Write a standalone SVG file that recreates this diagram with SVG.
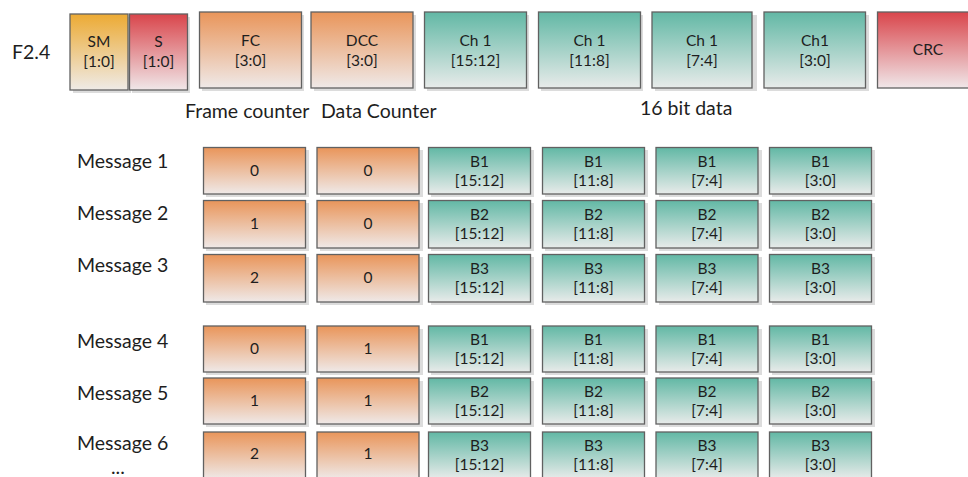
<svg xmlns="http://www.w3.org/2000/svg" width="968" height="477" viewBox="0 0 968 477">
<defs>
<linearGradient id="gO" x1="0" y1="0" x2="0" y2="1"><stop offset="0" stop-color="#E9955A"/><stop offset="1" stop-color="#EFE9E8"/></linearGradient>
<linearGradient id="gT" x1="0" y1="0" x2="0" y2="1"><stop offset="0" stop-color="#62B8A5"/><stop offset="1" stop-color="#E8EBEA"/></linearGradient>
<linearGradient id="gR" x1="0" y1="0" x2="0" y2="1"><stop offset="0" stop-color="#D9454B"/><stop offset="1" stop-color="#F0E7E9"/></linearGradient>
<linearGradient id="gY" x1="0" y1="0" x2="0" y2="1"><stop offset="0" stop-color="#ECAA33"/><stop offset="1" stop-color="#EFEBE7"/></linearGradient>
</defs>
<style>
text{font-family:Lato,"Liberation Sans",sans-serif;fill:#1e1e1e}
.s{font-size:15.5px;text-anchor:middle}
.l{font-size:19.5px}
.sh{fill:#dcdcdc}
.b{stroke:#616161;stroke-width:1.3}
.o{fill:url(#gO)}.t{fill:url(#gT)}.r{fill:url(#gR)}.y{fill:url(#gY)}
</style>
<rect width="968" height="477" fill="#fff"/>
<g id="labels">
<text class="l" x="12" y="59">F2.4</text>
<text class="l" x="185" y="118">Frame counter</text>
<text class="l" x="321" y="118">Data Counter</text>
<text class="l" x="640" y="115">16 bit data</text>
<text class="l" x="77" y="168">Message 1</text>
<text class="l" x="77" y="220">Message 2</text>
<text class="l" x="77" y="272">Message 3</text>
<text class="l" x="77" y="348">Message 4</text>
<text class="l" x="77" y="400">Message 5</text>
<text class="l" x="77" y="450">Message 6</text>
<text class="l" x="111" y="474">...</text>
</g>
<g id="frame">
<g id="n-sm"><rect class="sh" x="73" y="17" width="58" height="76"/><rect class="b y" x="70" y="14" width="58" height="76"/><text class="s" x="99" y="47">SM</text><text class="s" x="99" y="67">[1:0]</text></g>
<g id="n-s"><rect class="sh" x="132" y="17" width="58" height="76"/><rect class="b r" x="129.5" y="14" width="58" height="76"/><text class="s" x="158.5" y="47">S</text><text class="s" x="158.5" y="67">[1:0]</text></g>
<g id="n-fc"><rect class="sh" x="202" y="15" width="102" height="76"/><rect class="b o" x="199.5" y="12" width="102" height="76"/><text class="s" x="250.5" y="46">FC</text><text class="s" x="250.5" y="66">[3:0]</text></g>
<g id="n-dcc"><rect class="sh" x="314" y="15" width="102" height="76"/><rect class="b o" x="311" y="12" width="102" height="76"/><text class="s" x="362" y="46">DCC</text><text class="s" x="362" y="66">[3:0]</text></g>
<g id="n-ch1a"><rect class="sh" x="427" y="15" width="102" height="76"/><rect class="b t" x="424.5" y="12" width="102" height="76"/><text class="s" x="475.5" y="46">Ch 1</text><text class="s" x="475.5" y="66">[15:12]</text></g>
<g id="n-ch1b"><rect class="sh" x="541" y="15" width="102" height="76"/><rect class="b t" x="538.5" y="12" width="102" height="76"/><text class="s" x="589.5" y="46">Ch 1</text><text class="s" x="589.5" y="66">[11:8]</text></g>
<g id="n-ch1c"><rect class="sh" x="655" y="15" width="102" height="76"/><rect class="b t" x="652" y="12" width="100" height="76"/><text class="s" x="702" y="46">Ch 1</text><text class="s" x="702" y="66">[7:4]</text></g>
<g id="n-ch1d"><rect class="sh" x="767" y="15" width="102" height="76"/><rect class="b t" x="764" y="12" width="101.5" height="76"/><text class="s" x="815" y="46">Ch1</text><text class="s" x="815" y="66">[3:0]</text></g>
<g id="n-crc"><rect class="b r" x="877.5" y="12" width="102" height="76"/><text class="s" x="928" y="55">CRC</text></g>
</g>
<g id="messages">
<g id="m1">
<g id="m1-fc"><rect class="sh" x="206" y="150" width="103" height="47"/><rect class="b o" x="203.5" y="147.5" width="102" height="46.5"/><text class="s" x="254.5" y="176">0</text></g>
<g id="m1-dc"><rect class="sh" x="320" y="150" width="103" height="47"/><rect class="b o" x="317" y="147.5" width="102" height="46.5"/><text class="s" x="368" y="176">0</text></g>
<g id="m1-d1"><rect class="sh" x="431" y="150" width="103" height="47"/><rect class="b t" x="428.5" y="147.5" width="102" height="46.5"/><text class="s" x="479.5" y="167">B1</text><text class="s" x="479.5" y="186">[15:12]</text></g>
<g id="m1-d2"><rect class="sh" x="545" y="150" width="103" height="47"/><rect class="b t" x="542.5" y="147.5" width="102" height="46.5"/><text class="s" x="593.5" y="167">B1</text><text class="s" x="593.5" y="186">[11:8]</text></g>
<g id="m1-d3"><rect class="sh" x="659" y="150" width="103" height="47"/><rect class="b t" x="656" y="147.5" width="102" height="46.5"/><text class="s" x="707" y="167">B1</text><text class="s" x="707" y="186">[7:4]</text></g>
<g id="m1-d4"><rect class="sh" x="772" y="150" width="103" height="47"/><rect class="b t" x="769.5" y="147.5" width="102" height="46.5"/><text class="s" x="820.5" y="167">B1</text><text class="s" x="820.5" y="186">[3:0]</text></g>
</g>
<g id="m2">
<g id="m2-fc"><rect class="sh" x="206" y="203" width="103" height="48"/><rect class="b o" x="203.5" y="200.5" width="102" height="47.5"/><text class="s" x="254.5" y="229">1</text></g>
<g id="m2-dc"><rect class="sh" x="320" y="203" width="103" height="48"/><rect class="b o" x="317" y="200.5" width="102" height="47.5"/><text class="s" x="368" y="229">0</text></g>
<g id="m2-d1"><rect class="sh" x="431" y="203" width="103" height="48"/><rect class="b t" x="428.5" y="200.5" width="102" height="47.5"/><text class="s" x="479.5" y="220">B2</text><text class="s" x="479.5" y="239">[15:12]</text></g>
<g id="m2-d2"><rect class="sh" x="545" y="203" width="103" height="48"/><rect class="b t" x="542.5" y="200.5" width="102" height="47.5"/><text class="s" x="593.5" y="220">B2</text><text class="s" x="593.5" y="239">[11:8]</text></g>
<g id="m2-d3"><rect class="sh" x="659" y="203" width="103" height="48"/><rect class="b t" x="656" y="200.5" width="102" height="47.5"/><text class="s" x="707" y="220">B2</text><text class="s" x="707" y="239">[7:4]</text></g>
<g id="m2-d4"><rect class="sh" x="772" y="203" width="103" height="48"/><rect class="b t" x="769.5" y="200.5" width="102" height="47.5"/><text class="s" x="820.5" y="220">B2</text><text class="s" x="820.5" y="239">[3:0]</text></g>
</g>
<g id="m3">
<g id="m3-fc"><rect class="sh" x="206" y="257" width="103" height="48"/><rect class="b o" x="203.5" y="254.5" width="102" height="47.5"/><text class="s" x="254.5" y="283">2</text></g>
<g id="m3-dc"><rect class="sh" x="320" y="257" width="103" height="48"/><rect class="b o" x="317" y="254.5" width="102" height="47.5"/><text class="s" x="368" y="283">0</text></g>
<g id="m3-d1"><rect class="sh" x="431" y="257" width="103" height="48"/><rect class="b t" x="428.5" y="254.5" width="102" height="47.5"/><text class="s" x="479.5" y="274">B3</text><text class="s" x="479.5" y="293">[15:12]</text></g>
<g id="m3-d2"><rect class="sh" x="545" y="257" width="103" height="48"/><rect class="b t" x="542.5" y="254.5" width="102" height="47.5"/><text class="s" x="593.5" y="274">B3</text><text class="s" x="593.5" y="293">[11:8]</text></g>
<g id="m3-d3"><rect class="sh" x="659" y="257" width="103" height="48"/><rect class="b t" x="656" y="254.5" width="102" height="47.5"/><text class="s" x="707" y="274">B3</text><text class="s" x="707" y="293">[7:4]</text></g>
<g id="m3-d4"><rect class="sh" x="772" y="257" width="103" height="48"/><rect class="b t" x="769.5" y="254.5" width="102" height="47.5"/><text class="s" x="820.5" y="274">B3</text><text class="s" x="820.5" y="293">[3:0]</text></g>
</g>
<g id="m4">
<g id="m4-fc"><rect class="sh" x="206" y="329" width="103" height="46"/><rect class="b o" x="203.5" y="326" width="102" height="46"/><text class="s" x="254.5" y="354">0</text></g>
<g id="m4-dc"><rect class="sh" x="320" y="329" width="103" height="46"/><rect class="b o" x="317" y="326" width="102" height="46"/><text class="s" x="368" y="354">1</text></g>
<g id="m4-d1"><rect class="sh" x="431" y="329" width="103" height="46"/><rect class="b t" x="428.5" y="326" width="102" height="46"/><text class="s" x="479.5" y="345">B1</text><text class="s" x="479.5" y="364">[15:12]</text></g>
<g id="m4-d2"><rect class="sh" x="545" y="329" width="103" height="46"/><rect class="b t" x="542.5" y="326" width="102" height="46"/><text class="s" x="593.5" y="345">B1</text><text class="s" x="593.5" y="364">[11:8]</text></g>
<g id="m4-d3"><rect class="sh" x="659" y="329" width="103" height="46"/><rect class="b t" x="656" y="326" width="102" height="46"/><text class="s" x="707" y="345">B1</text><text class="s" x="707" y="364">[7:4]</text></g>
<g id="m4-d4"><rect class="sh" x="772" y="329" width="103" height="46"/><rect class="b t" x="769.5" y="326" width="102" height="46"/><text class="s" x="820.5" y="345">B1</text><text class="s" x="820.5" y="364">[3:0]</text></g>
</g>
<g id="m5">
<g id="m5-fc"><rect class="sh" x="206" y="381" width="103" height="46"/><rect class="b o" x="203.5" y="378" width="102" height="46"/><text class="s" x="254.5" y="406">1</text></g>
<g id="m5-dc"><rect class="sh" x="320" y="381" width="103" height="46"/><rect class="b o" x="317" y="378" width="102" height="46"/><text class="s" x="368" y="406">1</text></g>
<g id="m5-d1"><rect class="sh" x="431" y="381" width="103" height="46"/><rect class="b t" x="428.5" y="378" width="102" height="46"/><text class="s" x="479.5" y="397">B2</text><text class="s" x="479.5" y="416">[15:12]</text></g>
<g id="m5-d2"><rect class="sh" x="545" y="381" width="103" height="46"/><rect class="b t" x="542.5" y="378" width="102" height="46"/><text class="s" x="593.5" y="397">B2</text><text class="s" x="593.5" y="416">[11:8]</text></g>
<g id="m5-d3"><rect class="sh" x="659" y="381" width="103" height="46"/><rect class="b t" x="656" y="378" width="102" height="46"/><text class="s" x="707" y="397">B2</text><text class="s" x="707" y="416">[7:4]</text></g>
<g id="m5-d4"><rect class="sh" x="772" y="381" width="103" height="46"/><rect class="b t" x="769.5" y="378" width="102" height="46"/><text class="s" x="820.5" y="397">B2</text><text class="s" x="820.5" y="416">[3:0]</text></g>
</g>
<g id="m6">
<g id="m6-fc"><rect class="b o" x="203.5" y="432" width="102" height="47"/><text class="s" x="254.5" y="459">2</text></g>
<g id="m6-dc"><rect class="b o" x="317" y="432" width="102" height="47"/><text class="s" x="368" y="459">1</text></g>
<g id="m6-d1"><rect class="b t" x="428.5" y="432" width="102" height="47"/><text class="s" x="479.5" y="451">B3</text><text class="s" x="479.5" y="470">[15:12]</text></g>
<g id="m6-d2"><rect class="b t" x="542.5" y="432" width="102" height="47"/><text class="s" x="593.5" y="451">B3</text><text class="s" x="593.5" y="470">[11:8]</text></g>
<g id="m6-d3"><rect class="b t" x="656" y="432" width="102" height="47"/><text class="s" x="707" y="451">B3</text><text class="s" x="707" y="470">[7:4]</text></g>
<g id="m6-d4"><rect class="b t" x="769.5" y="432" width="102" height="47"/><text class="s" x="820.5" y="451">B3</text><text class="s" x="820.5" y="470">[3:0]</text></g>
</g>
</g>
<g id="connectors"/>
</svg>
